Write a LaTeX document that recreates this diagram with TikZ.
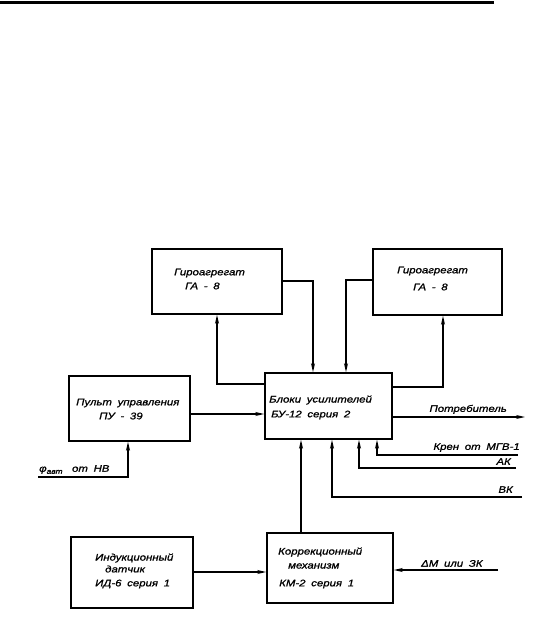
\documentclass[tikz,border=0pt]{standalone}
\usepackage{fontspec}
\newfontfamily\gost[FakeStretch=1.2,FakeBold=1.2,WordSpace=1.8]{Liberation Sans}
\usetikzlibrary{arrows.meta}
\tikzset{
  blk/.style={draw, line width=1.6pt, inner sep=0pt},
  txt/.style={anchor=west, inner sep=0pt, font=\gost\itshape\fontsize{9.5}{11}\selectfont},
  arr/.style={line width=1.3pt, -{Stealth[length=9pt,width=4pt]}},
}
\begin{document}
\begin{tikzpicture}[x=1pt,y=-1pt]
\useasboundingbox (0,0) rectangle (539,617);
% top rule
\coordinate (r1) at (0,2.5);
\coordinate (r2) at (494,2.5);
\draw[line width=3pt] (r1) -- (r2);
% boxes
\node[blk, minimum width=130pt, minimum height=65pt] (ga1) at (217,281.5) {};
\node[blk, minimum width=129pt, minimum height=66pt] (ga2) at (437.5,282) {};
\node[blk, minimum width=127pt, minimum height=66pt] (bu) at (328.5,406) {};
\node[blk, minimum width=121pt, minimum height=65pt] (pu) at (129.5,408.5) {};
\node[blk, minimum width=122pt, minimum height=71pt] (id) at (132,572.5) {};
\node[blk, minimum width=126pt, minimum height=70pt] (km) at (330,568) {};
% texts
\node[txt] (t1a) at (174,273) {Гироагрегат};
\node[txt] (t1b) at (185,286) {ГА - 8};
\node[txt] (t2a) at (397,271) {Гироагрегат};
\node[txt] (t2b) at (413,287) {ГА - 8};
\node[txt] (t3a) at (76,403) {Пульт управления};
\node[txt] (t3b) at (99,416) {ПУ - 39};
\node[txt] (t4a) at (269,400) {Блоки усилителей};
\node[txt] (t4b) at (271,415) {БУ-12 серия 2};
\node[txt] (t5a) at (95,558) {Индукционный};
\node[txt] (t5b) at (105,569) {датчик};
\node[txt] (t5c) at (95,584) {ИД-6 серия 1};
\node[txt] (t6a) at (278,552) {Коррекционный};
\node[txt] (t6b) at (288,566) {механизм};
\node[txt] (t6c) at (279,584) {КМ-2 серия 1};
% free ends
\coordinate (potr) at (525,417);
\coordinate (kren) at (518,455);
\coordinate (ak) at (516,468);
\coordinate (vk) at (522,497);
\coordinate (phi) at (38,477);
\coordinate (dm) at (498,570);
% connectors
\draw[arr] (ga1.east |- 0,281) -| (bu.north -| 313,0);
\draw[arr] (ga2.west |- 0,280) -| (bu.north -| 346,0);
\draw[arr] (bu.west |- 0,384) -| (ga1.south -| 217,0);
\draw[arr] (bu.east |- 0,387) -| (ga2.south -| 443,0);
\draw[arr] (pu.east |- 0,414) -- (bu.west |- 0,414);
\draw[arr] (bu.east |- 0,417) -- (potr);
\draw[arr] (kren) -| (bu.south -| 377,0);
\draw[arr] (ak) -| (bu.south -| 359,0);
\draw[arr] (vk) -| (bu.south -| 332,0);
\draw[arr] (km.north -| 301,0) -- (bu.south -| 301,0);
\draw[arr] (phi) -| (pu.south -| 128,0);
\draw[arr] (id.east |- 0,572) -- (km.west |- 0,572);
\draw[arr] (dm) -- (km.east |- dm);
% connector labels
\node[txt, anchor=south east] (lpotr) at (507,414) {Потребитель};
\node[txt, anchor=south east] (lkren) at (520,452) {Крен от МГВ-1};
\node[txt, anchor=south east] (lak) at (511,465) {АК};
\node[txt, anchor=south east] (lvk) at (513,493) {ВК};
\node[txt, anchor=south west] (lphi) at (39,474) {φ\raisebox{-2pt}{\fontsize{7}{8}\selectfont авт}\quad от НВ};
\node[txt, anchor=south west] (ldm) at (421,567) {ΔМ или ЗК};
\end{tikzpicture}
\end{document}
